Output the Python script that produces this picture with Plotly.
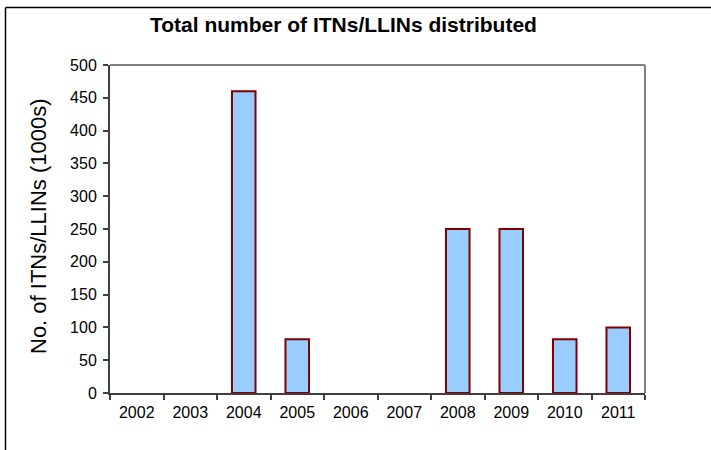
import plotly.graph_objects as go

years = ["2002", "2003", "2004", "2005", "2006", "2007", "2008", "2009", "2010", "2011"]
nets_thousands = [0, 0, 460, 82, 0, 0, 250, 250, 82, 100]
y_ticks = [0, 50, 100, 150, 200, 250, 300, 350, 400, 450, 500]

title_text = "Total number of ITNs/LLINs distributed"
y_title = "No. of ITNs/LLINs (1000s)"

fig = go.Figure()
fig.add_trace(go.Bar(
    x=years, y=nets_thousands,
    marker=dict(color="#99CCFF",
                line=dict(color="#800000", width=[2 if v else 0 for v in nets_thousands])),
    width=0.44,
))

W, H = 711, 450
L, R, T, B = 110, 66, 65, 57
pw, ph = W - L - R, H - T - B

def px(x):
    return (x - L) / pw

def py(y):
    return (H - B - y) / ph

fig.update_layout(
    width=W, height=H,
    margin=dict(l=L, r=R, t=T, b=B),
    paper_bgcolor="white", plot_bgcolor="white",
    showlegend=False,
    font=dict(family="Arial, Liberation Sans, sans-serif", color="black", size=15),
    xaxis=dict(
        type="category", showgrid=False, showline=True, linecolor="#404040", linewidth=2,
        ticks="outside", tickson="boundaries", ticklen=5, tickwidth=2, tickcolor="#404040",
        tickfont=dict(size=16), ticklabelstandoff=4, fixedrange=True,
    ),
    yaxis=dict(
        range=[0, 500], tickvals=y_ticks, showgrid=False, zeroline=False,
        showline=True, linecolor="#404040", linewidth=2,
        ticks="outside", ticklen=5, tickwidth=2, tickcolor="#404040",
        tickfont=dict(size=16), ticklabelstandoff=3, fixedrange=True,
    ),
    annotations=[
        dict(text="<b>" + title_text + "</b>", xref="paper", yref="paper",
             x=px(343), y=py(25), xanchor="center", yanchor="middle",
             showarrow=False, font=dict(size=21)),
        dict(text=y_title, xref="paper", yref="paper", textangle=-90,
             x=px(38), y=py(226), xanchor="center", yanchor="middle",
             showarrow=False, font=dict(size=22)),
    ],
    shapes=[
        dict(type="line", xref="paper", yref="paper", x0=0, x1=1, y0=1, y1=1,
             line=dict(color="#808080", width=2)),
        dict(type="line", xref="paper", yref="paper", x0=1, x1=1, y0=0, y1=1,
             line=dict(color="#808080", width=2)),
        dict(type="line", xref="paper", yref="paper", x0=px(5.5), x1=px(720), y0=py(7.5), y1=py(7.5),
             line=dict(color="black", width=1.5)),
        dict(type="line", xref="paper", yref="paper", x0=px(5.5), x1=px(5.5), y0=py(7.5), y1=py(460),
             line=dict(color="black", width=1.5)),
    ],
)

fig.write_html("out.html", config={"displayModeBar": False},
               post_script="document.body.style.margin='0';document.body.style.overflow='hidden';")
